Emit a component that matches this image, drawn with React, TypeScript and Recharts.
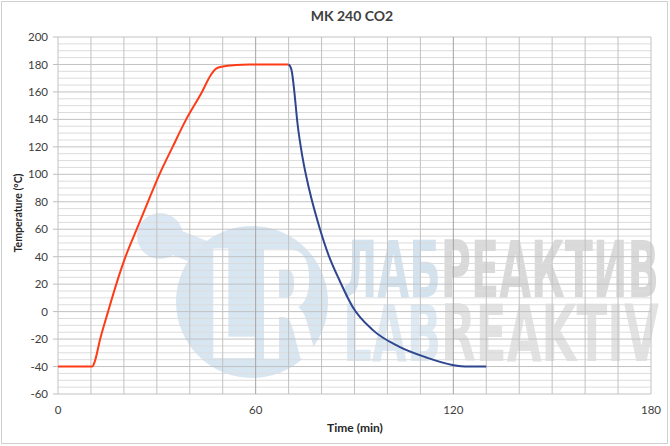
import React from 'react';
import { LineChart, Line, XAxis, YAxis, CartesianGrid } from 'recharts';

// Heating phase (red)
const heatTime = [0, 10.4, 11.2, 12.8, 15.2, 17.7, 20.5, 23.9, 27.3, 30.8, 34.8, 38.9, 43.7, 46.3, 48, 50, 54, 58, 70];
const heatTemp = [-40, -40, -36, -20, 0, 20, 40, 60, 80, 100, 120, 140, 160, 172, 177, 178.5, 179.6, 180, 180];

// Cooling phase (blue)
const coolTime = [70, 70.6, 71, 71.7, 72.7, 74.2, 76.3, 79.3, 82.3, 85.4, 89.4, 95.5, 103.5, 111.6, 119.7, 124.5, 130];
const coolTemp = [180, 178, 174.5, 161, 137, 112.7, 88.5, 61.8, 40, 23, 3.6, -13.3, -25.5, -33.2, -38.8, -40, -40];

const xTicks = [0, 60, 120, 180];
const yTicks = [-60, -40, -20, 0, 20, 40, 60, 80, 100, 120, 140, 160, 180, 200];
const xGridMinor = [0, 10, 20, 30, 40, 50, 70, 80, 90, 100, 110, 130, 140, 150, 160, 170, 180];
const xGridMajor = [60, 120];
const yGridMinor = [-55, -50, -45, -35, -30, -25, -15, -10, -5, 5, 10, 15, 25, 30, 35, 45, 50, 55, 65, 70, 75, 85, 90, 95, 105, 110, 115, 125, 130, 135, 145, 150, 155, 165, 170, 175, 185, 190, 195];

const heatData = heatTime.map((t, i) => ({ t, v: heatTemp[i] }));
const coolData = coolTime.map((t, i) => ({ t, v: coolTemp[i] }));

const FONT = 'Lato, "Open Sans", sans-serif';
const WM_FONT = '"DejaVu Sans Condensed", "DejaVu Sans", sans-serif';

export default function App() {
  return (
    <div style={{ position: 'fixed', left: 0, top: 0, width: 670, height: 446, background: '#fff', fontFamily: FONT }}>
      <svg width={670} height={446} style={{ position: 'absolute', left: 0, top: 0 }}>
        <rect x={1.5} y={1.5} width={666} height={442} fill="#fff" stroke="#d0d0d0" strokeWidth={1} />
        {/* watermark */}
        <g>
          <line x1={160} y1={236} x2={225} y2={262} stroke="#dbe8f3" strokeWidth={26} strokeLinecap="round" />
          <circle cx={160} cy={236} r={23} fill="#dbe8f3" />
          <circle cx={252} cy={302} r={76} fill="#d8e6f2" />
          <text x={206} y={358} fill="#ffffff" fontFamily={WM_FONT} fontWeight={700} fontSize={150} textLength={112} lengthAdjust="spacingAndGlyphs">LR</text>
          <text x={343} y={297} fontFamily={WM_FONT} fontWeight={700} fontSize={78} textLength={316} lengthAdjust="spacingAndGlyphs">
            <tspan fill="#d3e2ef">ЛАБ</tspan><tspan fill="#d9d9d9">РЕАКТИВ</tspan>
          </text>
          <text x={343} y={361} fontFamily={WM_FONT} fontWeight={700} fontSize={78} textLength={316} lengthAdjust="spacingAndGlyphs">
            <tspan fill="#dde9f3">LAB</tspan><tspan fill="#e2e2e2">REAKTIV</tspan>
          </text>
        </g>
        <text x={352} y={21} textAnchor="middle" fontFamily={FONT} fontWeight={700} fontSize={14} fill="#404040">MK 240 CO2</text>
        <text x={355} y={432} textAnchor="middle" fontFamily={FONT} fontWeight={700} fontSize={12} fill="#262626">Time (min)</text>
        <text x={0} y={0} transform="translate(22,213) rotate(-90)" textAnchor="middle" fontFamily={FONT} fontWeight={700} fontSize={10.5} fill="#262626">Temperature (°C)</text>
      </svg>
      <div style={{ position: 'absolute', left: 0, top: 0 }}>
        <LineChart width={670} height={446} margin={{ top: 37, right: 19, left: 0, bottom: 22 }}>
          <CartesianGrid horizontalValues={yGridMinor} vertical={false} stroke="#dcdcdc" strokeWidth={1} />
          <CartesianGrid horizontalValues={yTicks} verticalValues={xGridMinor} stroke="#c2c2c2" strokeWidth={1} />
          <CartesianGrid horizontal={false} verticalValues={xGridMajor} stroke="#a3a3a3" strokeWidth={1} />
          <XAxis
            dataKey="t"
            type="number"
            domain={[0, 180]}
            ticks={xTicks}
            allowDuplicatedCategory={false}
            axisLine={false}
            tickLine={false}
            tickSize={10}
            tickMargin={2}
            height={30}
            interval={0}
            tick={{ fill: '#404040', fontSize: 11.5, fontFamily: FONT }}
          />
          <YAxis
            type="number"
            domain={[-60, 200]}
            ticks={yTicks}
            axisLine={false}
            tickLine={{ stroke: '#bfbfbf' }}
            tickSize={5}
            tickMargin={5}
            width={58}
            interval={0}
            tick={{ fill: '#404040', fontSize: 11.5, fontFamily: FONT }}
          />
          <Line data={heatData} dataKey="v" type="monotone" stroke="#ff3b16" strokeWidth={2} dot={false} isAnimationActive={false} />
          <Line data={coolData} dataKey="v" type="monotone" stroke="#2f468f" strokeWidth={2} dot={false} isAnimationActive={false} />
        </LineChart>
      </div>
    </div>
  );
}
